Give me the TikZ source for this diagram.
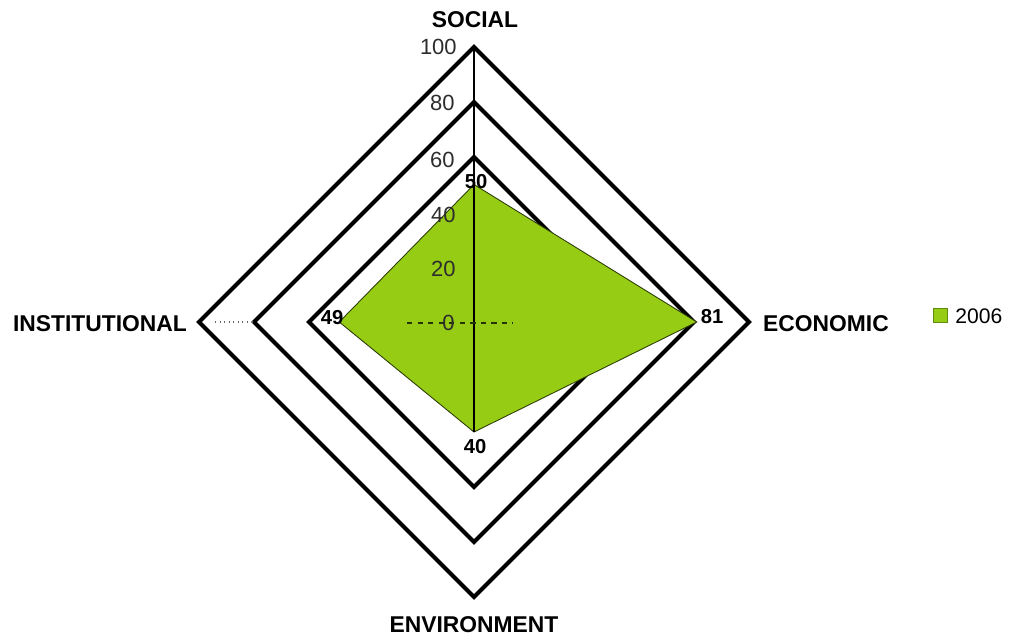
\documentclass[tikz,border=0pt]{standalone}
\usepackage{fontspec}
\setmainfont{Liberation Sans}
\usetikzlibrary{calc}
\definecolor{leaf}{RGB}{150,204,20}
\definecolor{leafdark}{RGB}{95,140,10}
\definecolor{ticktext}{RGB}{45,45,45}

\begin{document}
\begin{tikzpicture}[
		x=0.02cm, y=-0.02cm,
		ring/.style={line width=2.3pt, line join=miter},
		area/.style={fill=leaf, draw=black!70!leaf, line width=0.5pt},
		axisline/.style={line width=0.6pt},
		gridhint/.style={dotted, line width=0.6pt, black!60},
		cat/.style={font=\fontsize{13}{15}\selectfont\bfseries, inner sep=0pt},
		tick/.style={font=\fontsize{12.5}{14}\selectfont, text=ticktext, anchor=east, inner sep=0pt},
		val/.style={font=\fontsize{11.5}{13}\selectfont\bfseries, inner sep=0pt}]
		
		\useasboundingbox (0,0) rectangle (1014,639);
		
		\coordinate (c) at (474,322);
		
		% rings 60 / 80 / 100
		\draw[ring] ($(c)+(0,-275)$) -- ($(c)+(275,0)$) -- ($(c)+(0,275)$) -- ($(c)+(-275,0)$) -- cycle;
		\draw[ring] ($(c)+(0,-220)$) -- ($(c)+(220,0)$) -- ($(c)+(0,220)$) -- ($(c)+(-220,0)$) -- cycle;
		\draw[ring] ($(c)+(0,-165)$) -- ($(c)+(165,0)$) -- ($(c)+(0,165)$) -- ($(c)+(-165,0)$) -- cycle;
		
		% data 2006
		\coordinate (soc) at ($(c)+(0,-137.5)$);
		\coordinate (eco) at ($(c)+(222.75,0)$);
		\coordinate (env) at ($(c)+(0,110)$);
		\coordinate (ins) at ($(c)+(-134.75,0)$);
		\filldraw[area] (soc) -- (eco) -- (env) -- (ins) -- cycle;
		
		% axis
		\coordinate (top) at ($(c)+(0,-275)$);
		\draw[axisline] (top) -- (env);
		\coordinate (hl1) at ($(c)+(-259,0)$);
		\coordinate (hl2) at ($(c)+(-222,0)$);
		\coordinate (hc1) at ($(c)+(-67,1)$);
		\coordinate (hc2) at ($(c)+(39,1)$);
		\draw[gridhint] (hl1) -- (hl2);
		\draw[gridhint, dashed, black!75!leaf] (hc1) -- (hc2);
		
		% scale
		\node[tick] (t100) at (457,47)  {100};
		\node[tick] (t80)  at (455,103) {80};
		\node[tick] (t60)  at (455,160) {60};
		\node[tick] (t40)  at (456,215) {40};
		\node[tick] (t20)  at (456,269) {20};
		\node[tick] (t0)   at (455,323) {0};
		
		% values
		\node[val] (vsoc) at (476,182) {50};
		\node[val] (veco) at (712,317) {81};
		\node[val] (venv) at (475,447) {40};
		\node[val] (vins) at (332,318) {49};
		
		% categories
		\node[cat] (lsoc) at (475,20)  {SOCIAL};
		\node[cat] (leco) at (826,324) {ECONOMIC};
		\node[cat] (lenv) at (474,625) {ENVIRONMENT};
		\node[cat] (lins) at (100,324) {INSTITUTIONAL};
		
		% legend
		\node[draw=leafdark, fill=leaf, minimum size=0.28cm, inner sep=0pt, line width=0.6pt] (key) at (940.5,315.5) {};
		\node[font=\fontsize{12}{14}\selectfont, anchor=west, inner sep=0pt] (year) at (955,316) {2006};
		
\end{tikzpicture}
\end{document}
